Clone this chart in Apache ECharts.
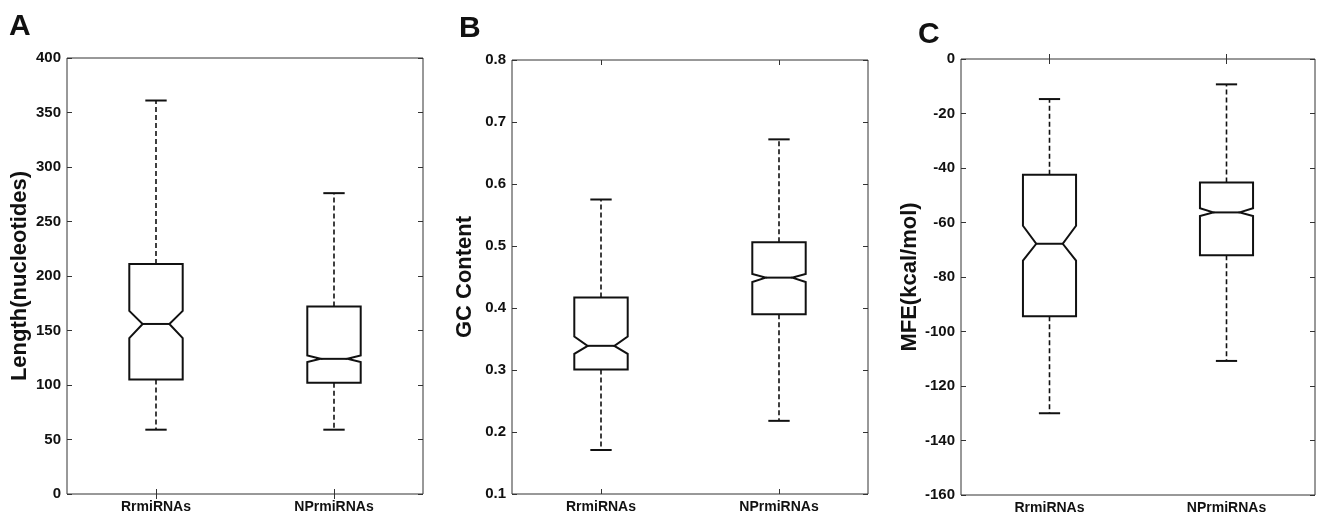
<!DOCTYPE html>
<html>
<head>
<meta charset="utf-8">
<script src="https://cdn.jsdelivr.net/npm/echarts@6/dist/echarts.min.js"></script>
<style>
    html, body { margin: 0; padding: 0; background: #fff; }
    #main { width: 1319px; height: 516px; }
</style>
</head>
<body>
<div id="main"></div>
<script>
// 数据：每组 [min, q1, notchLow, median, notchHigh, q3, max]
var categories = ['RrmiRNAs', 'NPrmiRNAs'];
var lengthStats = [
    [59, 105, 143, 156, 168, 211, 361],
    [59, 102, 121, 124, 127, 172, 276]
];
var gcStats = [
    [0.171, 0.301, 0.326, 0.339, 0.354, 0.417, 0.575],
    [0.218, 0.390, 0.442, 0.449, 0.455, 0.506, 0.672]
];
var mfeStats = [
    [-130, -94.4, -74, -67.8, -61.2, -42.5, -14.7],
    [-110.8, -72, -57.6, -56.3, -54.8, -45.3, -9.3]
];
var panelLetters = ['A', 'B', 'C'];
var yNames = ['Length(nucleotides)', 'GC Content', 'MFE(kcal/mol)'];
var yRanges = [[0, 400, 50], [0.1, 0.8, 0.1], [-160, 0, 20]];
var allStats = [lengthStats, gcStats, mfeStats];

(function () {
    var myChart = echarts.init(document.getElementById('main'));
    var font = 'Liberation Sans, Arial, sans-serif';
    var grids = [
        { left: 67, top: 58, width: 356, height: 436 },
        { left: 512, top: 60, width: 356, height: 434 },
        { left: 961, top: 59, width: 354, height: 436 }
    ];
    var nameGaps = [36, 36, 40];
    var letterPos = [[9, 12], [459, 14], [918, 20]];

    function renderNotch(params, api) {
        var idx = api.value(0);
        var cx = api.coord([idx, 0])[0];
        var band = api.size([1, 0])[0];
        var hw = band * 0.3 / 2;
        var capHw = hw * 0.4;
        var y = function (i) { return api.coord([idx, api.value(i)])[1]; };
        var yMin = y(1), yQ1 = y(2), yNL = y(3), yMed = y(4), yNH = y(5), yQ3 = y(6), yMax = y(7);
        var solid = { stroke: '#111', lineWidth: 2, fill: null };
        var dashed = { stroke: '#111', lineWidth: 1.6, lineDash: [5, 3] };
        return {
            type: 'group',
            children: [
                { type: 'line', shape: { x1: cx, y1: yQ3, x2: cx, y2: yMax }, style: dashed },
                { type: 'line', shape: { x1: cx, y1: yQ1, x2: cx, y2: yMin }, style: dashed },
                { type: 'line', shape: { x1: cx - capHw, y1: yMax, x2: cx + capHw, y2: yMax }, style: solid },
                { type: 'line', shape: { x1: cx - capHw, y1: yMin, x2: cx + capHw, y2: yMin }, style: solid },
                {
                    type: 'polygon',
                    shape: {
                        points: [
                            [cx - hw, yQ1], [cx - hw, yNL], [cx - hw / 2, yMed], [cx - hw, yNH],
                            [cx - hw, yQ3], [cx + hw, yQ3], [cx + hw, yNH], [cx + hw / 2, yMed],
                            [cx + hw, yNL], [cx + hw, yQ1]
                        ]
                    },
                    style: { stroke: '#111', lineWidth: 2, fill: '#fff', lineJoin: 'miter' }
                },
                { type: 'line', shape: { x1: cx - hw / 2, y1: yMed, x2: cx + hw / 2, y2: yMed }, style: solid }
            ]
        };
    }

    var grid = [], xAxis = [], yAxis = [], series = [], graphic = [];
    for (var p = 0; p < 3; p++) {
        grid.push(Object.assign({ show: true, borderColor: '#333', borderWidth: 1, backgroundColor: '#fff' }, grids[p]));
        // 下方和上方的类目轴（上方只画刻度）
        xAxis.push({
            type: 'category', gridIndex: p, data: categories, position: 'bottom',
            axisLine: { show: false },
            axisTick: { show: true, inside: true, alignWithLabel: true, length: 5, lineStyle: { color: '#333' } },
            axisLabel: { color: '#111', fontFamily: font, fontWeight: 'bold', fontSize: 14, margin: 6 }
        });
        xAxis.push({
            type: 'category', gridIndex: p, data: categories, position: 'top',
            axisLine: { show: false },
            axisTick: { show: true, inside: true, alignWithLabel: true, length: 5, lineStyle: { color: '#333' } },
            axisLabel: { show: false }
        });
        var r = yRanges[p];
        yAxis.push({
            type: 'value', gridIndex: p, min: r[0], max: r[1], interval: r[2], position: 'left',
            name: yNames[p], nameLocation: 'middle', nameGap: nameGaps[p],
            nameTextStyle: { color: '#111', fontFamily: font, fontWeight: 'bold', fontSize: 22 },
            axisLine: { show: false },
            splitLine: { show: false },
            axisTick: { show: true, inside: true, length: 5, lineStyle: { color: '#333' } },
            axisLabel: { color: '#111', fontFamily: font, fontWeight: 'bold', fontSize: 15, margin: 6 }
        });
        yAxis.push({
            type: 'value', gridIndex: p, min: r[0], max: r[1], interval: r[2], position: 'right',
            axisLine: { show: false },
            splitLine: { show: false },
            axisTick: { show: true, inside: true, length: 5, lineStyle: { color: '#333' } },
            axisLabel: { show: false }
        });
        series.push({
            type: 'custom',
            xAxisIndex: p * 2,
            yAxisIndex: p * 2,
            renderItem: renderNotch,
            encode: { x: 0, y: [1, 2, 3, 4, 5, 6, 7] },
            data: allStats[p].map(function (s, i) { return [i].concat(s); }),
            z: 10
        });
        graphic.push({
            type: 'text', left: letterPos[p][0], top: letterPos[p][1],
            style: { text: panelLetters[p], fill: '#111', font: 'bold 30px ' + font }
        });
    }

    var option = {
        backgroundColor: '#fff',
        animation: false,
        grid: grid,
        xAxis: xAxis,
        yAxis: yAxis,
        series: series,
        graphic: graphic
    };
    myChart.setOption(option);
    window.addEventListener('resize', function () {
        myChart.resize();
    });
})();
</script>
</body>
</html>
